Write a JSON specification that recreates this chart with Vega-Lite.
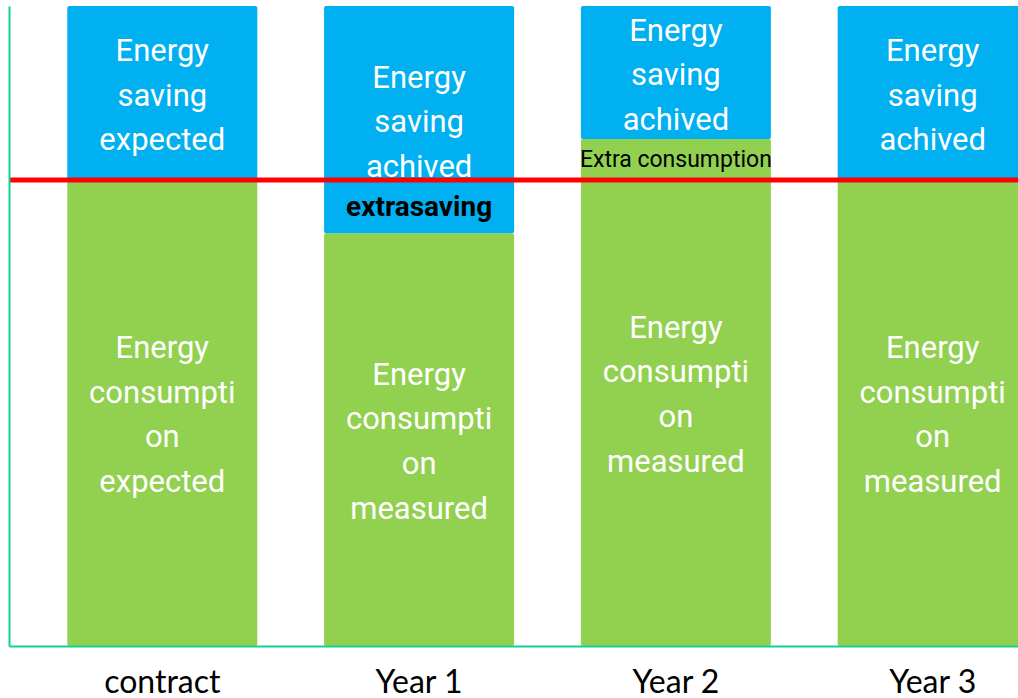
{
  "$schema": "https://vega.github.io/schema/vega-lite/v6.json",
  "width": 1009,
  "height": 640,
  "autosize": {"type": "none"},
  "padding": {"left": 9, "top": 6, "right": 0, "bottom": 52},
  "background": "white",
  "config": {"view": {"stroke": null}},
  "datasets": {
    "segments": [
      {"period": "contract", "segment": "consumption", "lo": 0, "hi": 72.8, "label": ["Energy", "consumpti", "on", "expected"]},
      {"period": "contract", "segment": "saving", "lo": 72.8, "hi": 100, "label": ["Energy", "saving", "expected"]},
      {"period": "Year 1", "segment": "consumption", "lo": 0, "hi": 64.5, "label": ["Energy", "consumpti", "on", "measured"]},
      {"period": "Year 1", "segment": "saving", "lo": 64.5, "hi": 100, "label": ["Energy", "saving", "achived"]},
      {"period": "Year 2", "segment": "consumption", "lo": 0, "hi": 79.2, "label": ["Energy", "consumpti", "on", "measured"]},
      {"period": "Year 2", "segment": "saving", "lo": 79.2, "hi": 100, "label": ["Energy", "saving", "achived"]},
      {"period": "Year 3", "segment": "consumption", "lo": 0, "hi": 72.8, "label": ["Energy", "consumpti", "on", "measured"]},
      {"period": "Year 3", "segment": "saving", "lo": 72.8, "hi": 100, "label": ["Energy", "saving", "achived"]}
    ],
    "notes": [
      {"period": "Year 1", "kind": "extra saving", "lo": 64.5, "hi": 72.8, "label": "extrasaving"},
      {"period": "Year 2", "kind": "extra consumption", "lo": 72.8, "hi": 79.2, "label": "Extra consumption"}
    ],
    "baseline": [
      {"name": "expected consumption", "level": 72.8}
    ]
  },
  "layer": [
    {
      "data": {"name": "segments"},
      "mark": {"type": "bar", "cornerRadius": 2},
      "encoding": {
        "x": {
          "field": "period",
          "type": "nominal",
          "sort": ["contract", "Year 1", "Year 2", "Year 3"],
          "scale": {"domain": ["contract", "Year 1", "Year 2", "Year 3"], "range": [0, 1077], "paddingInner": 0.26, "paddingOuter": 0.227},
          "axis": {
            "title": null,
            "ticks": false,
            "labelAngle": 0,
            "labelFont": "Lato",
            "labelFontSize": 32,
            "labelColor": "black",
            "labelBaseline": "alphabetic",
            "labelPadding": 46,
            "domainColor": "#12cf97",
            "domainWidth": 2,
            "zindex": 1
          }
        },
        "y": {
          "field": "lo",
          "type": "quantitative",
          "scale": {"domain": [0, 100], "nice": false, "zero": false},
          "axis": {"title": null, "labels": false, "ticks": false, "grid": false, "domainColor": "#12cf97", "domainWidth": 2, "zindex": 1}
        },
        "y2": {"field": "hi"},
        "color": {
          "field": "segment",
          "type": "nominal",
          "scale": {"domain": ["consumption", "saving"], "range": ["#92d050", "#00b0f0"]},
          "legend": null
        }
      }
    },
    {
      "data": {"name": "segments"},
      "transform": [{"filter": "datum.segment == 'saving'"}, {"calculate": "(datum.lo + datum.hi) / 2", "as": "mid"}],
      "mark": {"type": "text", "color": "white", "font": "Roboto", "fontSize": 31, "lineHeight": 44.7, "baseline": "middle", "align": "center", "dy": -41},
      "encoding": {
        "x": {"field": "period", "type": "nominal"},
        "y": {"field": "mid", "type": "quantitative"},
        "text": {"field": "label"}
      }
    },
    {
      "data": {"name": "segments"},
      "transform": [{"filter": "datum.segment == 'consumption'"}, {"calculate": "(datum.lo + datum.hi) / 2", "as": "mid"}],
      "mark": {"type": "text", "color": "white", "font": "Roboto", "fontSize": 31, "lineHeight": 44.7, "baseline": "middle", "align": "center", "dy": -64},
      "encoding": {
        "x": {"field": "period", "type": "nominal"},
        "y": {"field": "mid", "type": "quantitative"},
        "text": {"field": "label"}
      }
    },
    {
      "data": {"name": "notes"},
      "transform": [{"filter": "datum.kind == 'extra saving'"}, {"calculate": "(datum.lo + datum.hi) / 2", "as": "mid"}],
      "mark": {"type": "text", "color": "black", "font": "Roboto", "fontSize": 28, "fontWeight": "bold", "baseline": "middle", "align": "center", "dy": 1},
      "encoding": {
        "x": {"field": "period", "type": "nominal"},
        "y": {"field": "mid", "type": "quantitative"},
        "text": {"field": "label"}
      }
    },
    {
      "data": {"name": "notes"},
      "transform": [{"filter": "datum.kind == 'extra consumption'"}, {"calculate": "(datum.lo + datum.hi) / 2", "as": "mid"}],
      "mark": {"type": "text", "color": "black", "font": "Roboto", "fontSize": 23, "baseline": "middle", "align": "center", "dy": 0},
      "encoding": {
        "x": {"field": "period", "type": "nominal"},
        "y": {"field": "mid", "type": "quantitative"},
        "text": {"field": "label"}
      }
    },
    {
      "data": {"name": "baseline"},
      "mark": {"type": "rule", "color": "#ff0000", "strokeWidth": 5},
      "encoding": {"y": {"field": "level", "type": "quantitative"}}
    }
  ]
}
